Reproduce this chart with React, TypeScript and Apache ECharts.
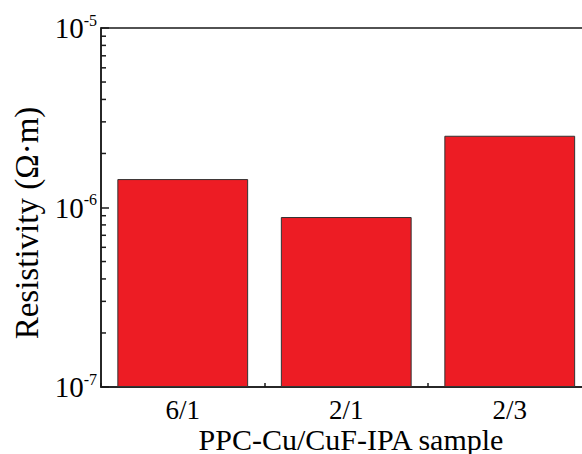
import React, { useEffect, useRef } from "react";
import * as echarts from "echarts";

const samples = ["6/1", "2/1", "2/3"];
const resistivity = [1.44e-6, 0.885e-6, 2.51e-6];
const yMin = 1e-7;
const yMax = 1e-5;
const minorTickValues = [
  2e-7, 3e-7, 4e-7, 5e-7, 6e-7, 7e-7, 8e-7, 9e-7,
  2e-6, 3e-6, 4e-6, 5e-6, 6e-6, 7e-6, 8e-6, 9e-6,
];
const xTitle = "PPC-Cu/CuF-IPA sample";
const yTitle = "Resistivity (Ω·m)";

const FONT = "'Liberation Serif', 'Times New Roman', serif";
const INK = "#1a1a1a";

export default function App() {
  const ref = useRef<HTMLDivElement>(null);
  useEffect(() => {
    if (!ref.current) return;
    const chart = echarts.init(ref.current, undefined, { renderer: "svg" });
    const option: any = {
      animation: false,
      backgroundColor: "#ffffff",
      grid: {
        left: 101,
        top: 28,
        right: 8.5,
        bottom: 67,
        show: true,
        borderColor: INK,
        borderWidth: 1.5,
        backgroundColor: "transparent",
        containLabel: false,
      },
      xAxis: [
        {
          type: "category",
          data: samples,
          position: "bottom",
          axisLine: { show: true, lineStyle: { color: INK, width: 1.5 } },
          axisTick: {
            show: true,
            inside: true,
            alignWithLabel: true,
            length: 8,
            lineStyle: { color: INK, width: 1.5 },
          },
          axisLabel: {
            show: true,
            margin: 9,
            fontFamily: FONT,
            fontSize: 27,
            color: "#000",
          },
          splitLine: { show: false },
        },
        {
          type: "category",
          data: samples,
          position: "bottom",
          axisLine: { show: false },
          axisTick: {
            show: true,
            inside: true,
            alignWithLabel: false,
            length: 4,
            lineStyle: { color: INK, width: 1.5 },
          },
          axisLabel: { show: false },
          splitLine: { show: false },
        },
      ],
      yAxis: {
        type: "log",
        logBase: 10,
        min: yMin,
        max: yMax,
        startValue: yMin,
        splitNumber: 2,
        axisLine: { show: true, lineStyle: { color: INK, width: 1.5 } },
        axisTick: {
          show: true,
          inside: true,
          length: 8,
          lineStyle: { color: INK, width: 1.5 },
        },
        splitLine: { show: false },
        axisLabel: {
          margin: 4,
          fontFamily: FONT,
          fontSize: 29,
          color: "#000",
          formatter: (v: number) =>
            `{b|10}{s|${Math.round(Math.log10(v))}}`,
          rich: {
            b: { fontFamily: FONT, fontSize: 29, color: "#000" },
            s: {
              fontFamily: FONT,
              fontSize: 16,
              color: "#000",
              padding: [0, 0, 16, 0],
            },
          },
        },
      },
      graphic: [
        {
          type: "text",
          x: 27,
          y: 223,
          rotation: Math.PI / 2,
          style: {
            text: yTitle,
            fontFamily: FONT,
            fontSize: 33,
            fill: "#000",
            align: "center",
            verticalAlign: "middle",
          },
        },
        {
          type: "text",
          x: 351,
          y: 439,
          style: {
            text: xTitle,
            fontFamily: FONT,
            fontSize: 30,
            fill: "#000",
            align: "center",
            verticalAlign: "middle",
          },
        },
      ],
      series: [
        {
          type: "bar",
          data: resistivity,
          xAxisIndex: 0,
          barWidth: "80%",
          itemStyle: {
            color: "#ED1C24",
            borderColor: "#333333",
            borderWidth: 1,
          },
        },
        {
          type: "custom",
          xAxisIndex: 0,
          yAxisIndex: 0,
          data: minorTickValues.map((v) => [0, v]),
          renderItem: (params: any, api: any) => {
            const pt = api.coord([0, api.value(1)]);
            const x = params.coordSys.x;
            return {
              type: "line",
              shape: { x1: x, y1: pt[1], x2: x + 5, y2: pt[1] },
              style: { stroke: INK, lineWidth: 1.5 },
            };
          },
          silent: true,
          z: 5,
        },
      ],
    };
    chart.setOption(option);
    return () => chart.dispose();
  }, []);
  return (
    <div
      style={{
        position: "fixed",
        left: 0,
        top: 0,
        width: 582,
        height: 454,
        overflow: "hidden",
      }}
    >
      <div ref={ref} style={{ width: 600, height: 454 }} />
    </div>
  );
}
